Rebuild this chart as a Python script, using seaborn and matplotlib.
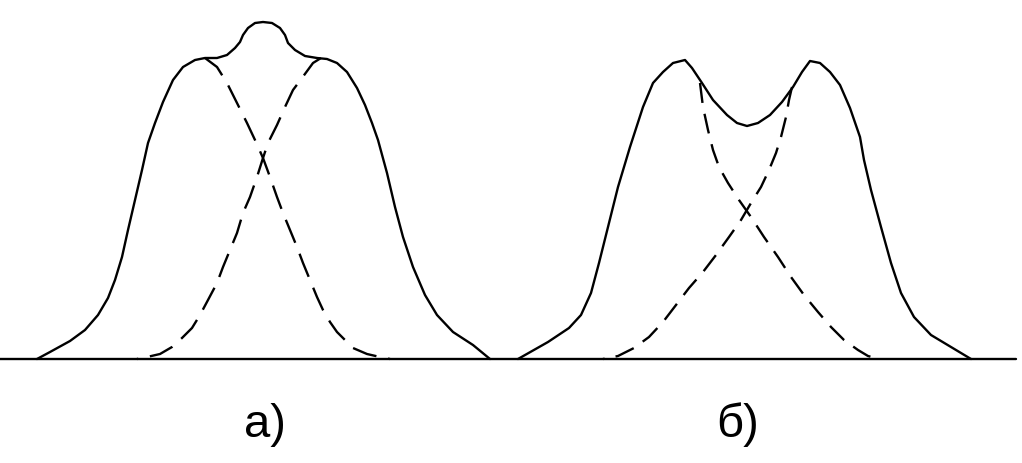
import matplotlib
matplotlib.use("Agg")
import matplotlib.pyplot as plt
import seaborn as sns
import pandas as pd

# Panel а): envelope and two component curves (x, height above baseline)
env_a_x = [37, 50, 70, 85, 98, 108, 115, 122, 128, 135, 142, 148, 155, 163, 173, 183, 195, 205,
           217, 227, 235, 240, 243, 248, 255, 263, 272, 280, 285, 288, 295, 305, 317, 327, 337,
           347, 357, 365, 372, 378, 387, 395, 403, 413, 425, 437, 453, 473, 490]
env_a_y = [0, 7, 18, 29, 44, 61, 79, 102, 129, 159, 189, 216, 236, 257, 279, 292, 299, 301,
           301, 304, 311, 317, 324, 331, 336, 337, 336, 331, 324, 316, 309, 303, 301, 300, 296,
           287, 271, 254, 236, 219, 186, 152, 122, 92, 64, 44, 27, 14, 0]

comp_a1_x = [205, 217, 227, 237, 247, 255, 263, 270, 277, 283, 290, 297, 303, 310, 317, 323,
             330, 337, 345, 353, 367, 380, 390]
comp_a1_y = [301, 292, 276, 256, 236, 219, 201, 182, 162, 146, 129, 112, 96, 79, 62, 49,
             37, 27, 19, 11, 5, 2, 0]

comp_a2_x = [321, 313, 302, 293, 285, 277, 268, 263, 257, 250, 243, 237, 230, 223, 217, 208,
             200, 192, 182, 172, 160, 147, 137]
comp_a2_y = [301, 296, 281, 269, 252, 234, 216, 201, 182, 162, 146, 126, 109, 92, 76, 59,
             44, 31, 21, 12, 5, 2, 0]

# Panel б)
env_b_x = [518, 548, 569, 581, 591, 599, 608, 618, 630, 643, 653, 663, 673, 685, 692, 702, 713,
           727, 737, 747, 758, 770, 782, 793, 802, 810, 820, 830, 840, 850, 860, 864, 871, 881,
           891, 901, 914, 931, 951, 971]
env_b_y = [0, 17, 31, 44, 66, 96, 132, 172, 212, 252, 276, 287, 296, 299, 291, 276, 259,
           244, 236, 233, 236, 244, 257, 272, 287, 298, 296, 287, 274, 251, 222, 199, 169, 132,
           96, 66, 42, 24, 12, 0]

comp_b1_x = [700, 703, 708, 713, 719, 728, 739, 751, 764, 778, 791, 804, 818, 831, 844, 858,
             868, 879]
comp_b1_y = [276, 252, 229, 209, 192, 176, 159, 142, 122, 102, 82, 64, 47, 32, 19, 9, 3, 0]

comp_b2_x = [792, 789, 786, 781, 776, 769, 761, 751, 741, 729, 716, 703, 689, 676, 663, 649,
             634, 618, 603]
comp_b2_y = [272, 259, 242, 222, 206, 189, 172, 156, 139, 122, 104, 87, 71, 54, 37, 22, 11, 3, 0]

baseline_x = [0, 1016]
baseline_y = [0, 0]

labels = ["а)", "б)"]
label_x = [265, 737.5]
label_y = [-78, -78]

sns.set_style("white")
plt.rcParams["font.family"] = ["Liberation Sans", "DejaVu Sans"]

fig = plt.figure(figsize=(10.22, 4.63), dpi=100)
ax = fig.add_axes([0, 0, 1, 1])

lw = 1.7
dash_a = (0, (10.5, 5.0))
dash_b = (0, (8.5, 4.7))

def draw(xs, ys, dashes=None):
    df = pd.DataFrame({"x": xs, "y": ys})
    kw = dict(x="x", y="y", data=df, sort=False, estimator=None, color="black",
              linewidth=lw, ax=ax)
    if dashes is not None:
        kw["linestyle"] = dashes
    sns.lineplot(**kw)

draw(baseline_x, baseline_y)
draw(env_a_x, env_a_y)
draw(comp_a1_x, comp_a1_y, dash_a)
draw(comp_a2_x, comp_a2_y, dash_a)
draw(env_b_x, env_b_y)
draw(comp_b1_x, comp_b1_y, dash_b)
draw(comp_b2_x, comp_b2_y, dash_b)

for t, x, y in zip(labels, label_x, label_y):
    ax.text(x, y, t, ha="center", va="baseline", fontsize=34, color="black")

ax.set_xlim(0, 1022)
ax.set_ylim(359 - 463, 359)
ax.set_axis_off()
if ax.get_legend() is not None:
    ax.get_legend().remove()

fig.savefig("out.png", dpi=100, facecolor="white")
